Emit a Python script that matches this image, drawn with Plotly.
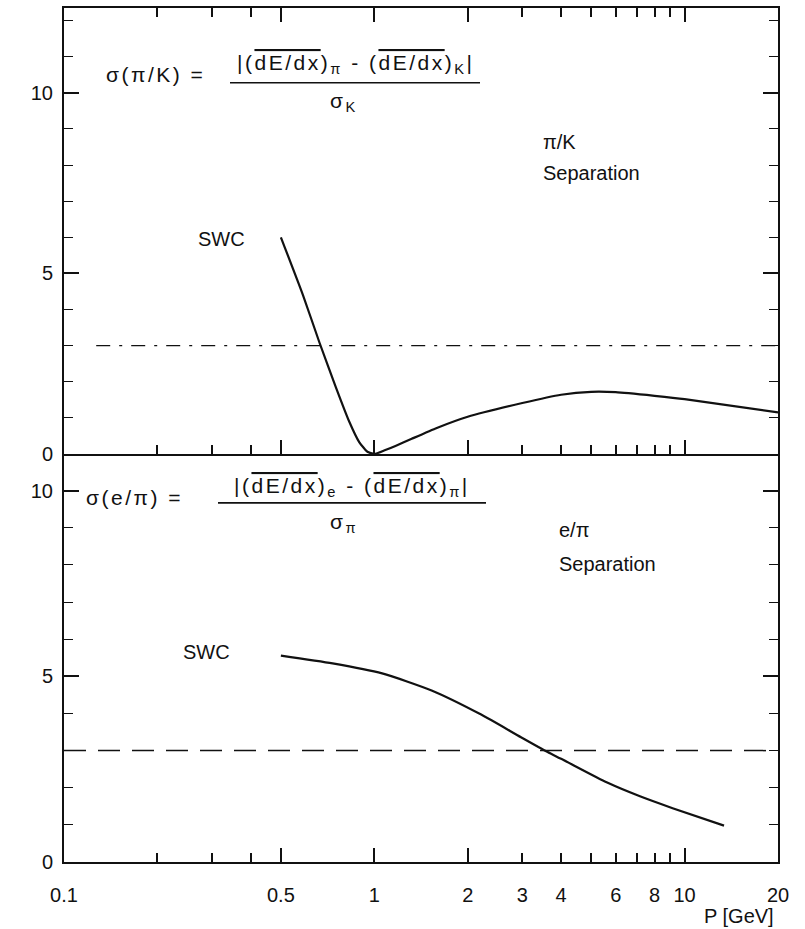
import plotly.graph_objects as go

# pi/K separation curve (SWC)
pk_p = [0.5, 0.589, 0.666, 0.751, 0.83, 0.894, 0.95, 1.0, 1.08, 1.17, 1.32, 1.59,
        2.0, 3.0, 4.0, 5.0, 6.0, 8.0, 10.0, 20.0]
pk_sep = [6.0, 4.4, 3.08, 1.86, 0.9, 0.33, 0.06, 0.0, 0.1, 0.22, 0.42, 0.72,
          1.03, 1.41, 1.64, 1.72, 1.71, 1.61, 1.52, 1.15]

# e/pi separation curve (SWC)
epi_p = [0.5, 0.734, 1.06, 1.53, 2.21, 2.97, 3.62, 4.0, 5.63, 7.18, 9.15, 13.4]
epi_sep = [5.56, 5.35, 5.08, 4.62, 3.97, 3.36, 2.96, 2.78, 2.14, 1.77, 1.45, 0.98]

# 3-sigma reference level
level_p_top = [0.127, 20.0]
level_p_bot = [0.1, 20.0]
level = [3, 3]

x_tickvals = [0.1, 0.5, 1, 2, 3, 4, 6, 8, 10, 20]
x_ticktext = ["0.1", "0.5", "1", "2", "3", "4", "6", "8", "10", "20"]
x_allticks = [0.2, 0.3, 0.4, 0.5, 1, 2, 3, 4, 5, 6, 7, 8, 9, 10]
x_longticks = [0.5, 1, 2, 10]
y_tickvals = [0, 5, 10]

FONT = "Liberation Sans"
BLACK = "#111111"
XR = [-1, 1.30103]

fig = go.Figure()
fig.add_trace(go.Scatter(x=pk_p, y=pk_sep, mode="lines", line=dict(color=BLACK, width=2.2, shape="spline", smoothing=0.5),
                         xaxis="x2", yaxis="y2", showlegend=False))
fig.add_trace(go.Scatter(x=level_p_top, y=level, mode="lines", line=dict(color=BLACK, width=1.3, dash="14px,9px,3px,9px"),
                         xaxis="x2", yaxis="y2", showlegend=False))
fig.add_trace(go.Scatter(x=epi_p, y=epi_sep, mode="lines", line=dict(color=BLACK, width=2.2, shape="spline", smoothing=0.6),
                         xaxis="x", yaxis="y", showlegend=False))
fig.add_trace(go.Scatter(x=level_p_bot, y=level, mode="lines", line=dict(color=BLACK, width=1.5, dash="22px,12px"),
                         xaxis="x", yaxis="y", showlegend=False))
# empty traces so the overlay tick axes are laid out
for xa, ya in [("x3", "y"), ("x5", "y"), ("x4", "y2"), ("x6", "y2"), ("x7", "y2")]:
    fig.add_trace(go.Scatter(x=[], y=[], xaxis=xa, yaxis=ya, showlegend=False))

split = 409 / 856

tick_x = dict(type="log", range=XR, ticks="inside", tickwidth=1.5, tickcolor=BLACK,
              showgrid=False, zeroline=False)
common_y = dict(showline=True, linecolor=BLACK, linewidth=2, mirror="ticks",
                ticks="inside", ticklen=15, tickwidth=1.6, tickcolor=BLACK,
                tickvals=y_tickvals, ticklabelstandoff=5,
                minor=dict(dtick=1, ticks="inside", ticklen=9, tickwidth=1.4, tickcolor=BLACK),
                showgrid=False, zeroline=False,
                tickfont=dict(family=FONT, size=20, color=BLACK))
overlay = dict(showline=False, showticklabels=False)

fig.update_layout(
    width=805, height=929,
    margin=dict(l=64, r=27, t=6, b=67),
    plot_bgcolor="white", paper_bgcolor="white",
    # bottom panel: short ticks at every position
    xaxis=dict(**tick_x, anchor="y", domain=[0, 1], showline=True, linecolor=BLACK, linewidth=2,
               tickvals=x_allticks, ticklen=9, showticklabels=False),
    # bottom panel labels
    xaxis3=dict(**tick_x, anchor="y", overlaying="x", tickvals=x_tickvals, ticktext=x_ticktext,
                ticklen=0, showline=False, ticklabelstandoff=19,
                tickfont=dict(family=FONT, size=20, color=BLACK)),
    # bottom panel long ticks
    xaxis5=dict(**tick_x, **overlay, anchor="y", overlaying="x", tickvals=x_longticks, ticklen=14),
    # top panel, lower edge
    xaxis2=dict(**tick_x, anchor="y2", domain=[0, 1], showline=True, linecolor=BLACK, linewidth=2,
                mirror=True, tickvals=x_allticks, ticklen=9, showticklabels=False),
    xaxis4=dict(**tick_x, **overlay, anchor="y2", overlaying="x2", tickvals=x_longticks, ticklen=14),
    # top panel, upper edge
    xaxis6=dict(**tick_x, **overlay, anchor="y2", overlaying="x2", side="top", tickvals=x_allticks, ticklen=9),
    xaxis7=dict(**tick_x, **overlay, anchor="y2", overlaying="x2", side="top", tickvals=x_longticks, ticklen=14),
    yaxis=dict(**common_y, anchor="x", domain=[0, split], range=[0, 10.99]),
    yaxis2=dict(**common_y, anchor="x2", domain=[split, 1], range=[0, 12.35]),
)


def ov(s):
    return f"<span style='text-decoration:overline'>{s}</span>"


def wide(s):
    return f"<span style='letter-spacing:2.5px'>{s}</span>"


txt = dict(family=FONT, size=20, color=BLACK)
ftxt = dict(family=FONT, size=21, color=BLACK)

ann = [
    # pi/K panel
    dict(x=104, y=73, text=wide("σ(π/K) ="), xanchor="left", f=ftxt),
    dict(x=355, y=62, text=wide(f"|({ov('dE/dx')})<sub>π</sub> - ({ov('dE/dx')})<sub>K</sub>|"), xanchor="center", f=ftxt),
    dict(x=344, y=100, text=wide("σ<sub>K</sub>"), xanchor="center", f=ftxt),
    dict(x=541, y=140, text="π/K", xanchor="left", f=txt),
    dict(x=541, y=171, text="Separation", xanchor="left", f=txt),
    dict(x=196, y=238, text="SWC", xanchor="left", f=txt),
    # e/pi panel
    dict(x=84, y=497, text=wide("σ(e/π) ="), xanchor="left", f=ftxt),
    dict(x=352, y=486, text=wide(f"|({ov('dE/dx')})<sub>e</sub> - ({ov('dE/dx')})<sub>π</sub>|"), xanchor="center", f=ftxt),
    dict(x=344, y=522, text=wide("σ<sub>π</sub>"), xanchor="center", f=ftxt),
    dict(x=557, y=529, text="e/π", xanchor="left", f=txt),
    dict(x=557, y=563, text="Separation", xanchor="left", f=txt),
    dict(x=181, y=652, text="SWC", xanchor="left", f=txt),
    # axis title
    dict(x=776, y=916, text="P [GeV]", xanchor="right", f=txt),
]
for a in ann:
    fig.add_annotation(xref="paper", yref="paper", x=(a["x"] - 64) / 714,
                       y=1 - (a["y"] - 6) / 856, text=a["text"], xanchor=a["xanchor"], yanchor="middle",
                       showarrow=False, font=a["f"])

# fraction bars
for x0, x1, yb in [(230, 480, 81), (218, 486, 502)]:
    fig.add_shape(type="line", xref="paper", yref="paper",
                  x0=(x0 - 64) / 714, x1=(x1 - 64) / 714,
                  y0=1 - (yb - 6) / 856, y1=1 - (yb - 6) / 856,
                  line=dict(color=BLACK, width=1.6))

fig.write_html("out.html")
